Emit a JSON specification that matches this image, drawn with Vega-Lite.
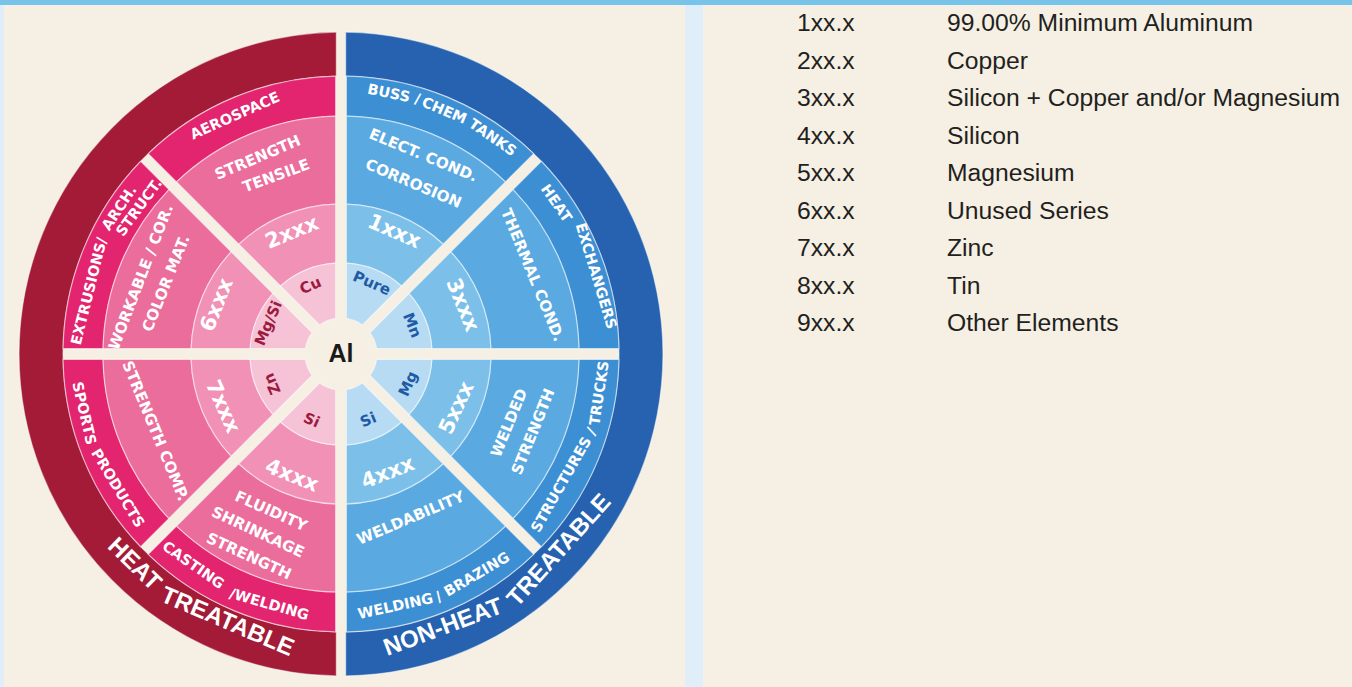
{
  "$schema": "https://vega.github.io/schema/vega-lite/v6.json",
  "padding": 0,
  "background": "#f5f0e3",
  "config": {"view": {"stroke": null}},
  "datasets": {
    "sectors": [
      {"sector": "1xxx", "half": "Non-heat treatable", "start": 0, "end": 45},
      {"sector": "3xxx", "half": "Non-heat treatable", "start": 45, "end": 90},
      {"sector": "5xxx", "half": "Non-heat treatable", "start": 90, "end": 135},
      {"sector": "4xxx wrought", "half": "Non-heat treatable", "start": 135, "end": 180},
      {"sector": "4xxx cast", "half": "Heat treatable", "start": 180, "end": 225},
      {"sector": "7xxx", "half": "Heat treatable", "start": 225, "end": 270},
      {"sector": "6xxx", "half": "Heat treatable", "start": 270, "end": 315},
      {"sector": "2xxx", "half": "Heat treatable", "start": 315, "end": 360}
    ],
    "halves": [
      {"half": "Non-heat treatable", "start": 0, "end": 180},
      {"half": "Heat treatable", "start": 180, "end": 360}
    ],
    "labels": [
      {"text": "Cu", "ring": "element", "half": "Heat treatable", "theta": 336, "level": 0.71},
      {"text": "Pure", "ring": "element", "half": "Non-heat treatable", "theta": 23.5, "level": 0.75},
      {"text": "Mn", "ring": "element", "half": "Non-heat treatable", "theta": 68, "level": 0.74},
      {"text": "Mg", "ring": "element", "half": "Non-heat treatable", "theta": 114, "level": 0.68},
      {"text": "Si", "ring": "element", "half": "Non-heat treatable", "theta": 157.5, "level": 0.64},
      {"text": "Si", "ring": "element", "half": "Heat treatable", "theta": 204, "level": 0.66},
      {"text": "Zn", "ring": "element", "half": "Heat treatable", "theta": 246.5, "level": 0.71},
      {"text": "Mg/Si", "ring": "element", "half": "Heat treatable", "theta": 293, "level": 0.78},
      {"text": "2xxx", "ring": "series", "half": "Heat treatable", "theta": 338, "level": 1.67},
      {"text": "1xxx", "ring": "series", "half": "Non-heat treatable", "theta": 23.5, "level": 1.71},
      {"text": "3xxx", "ring": "series", "half": "Non-heat treatable", "theta": 68, "level": 1.67},
      {"text": "5xxx", "ring": "series", "half": "Non-heat treatable", "theta": 115, "level": 1.63},
      {"text": "4xxx", "ring": "series", "half": "Non-heat treatable", "theta": 158.5, "level": 1.63},
      {"text": "4xxx", "ring": "series", "half": "Heat treatable", "theta": 202, "level": 1.69},
      {"text": "7xxx", "ring": "series", "half": "Heat treatable", "theta": 246, "level": 1.66},
      {"text": "6xxx", "ring": "series", "half": "Heat treatable", "theta": 291.6, "level": 1.71},
      {"text": "STRENGTH", "ring": "property", "half": "Heat treatable", "theta": 337, "level": 2.72},
      {"text": "TENSILE", "ring": "property", "half": "Heat treatable", "theta": 340, "level": 2.45},
      {"text": "ELECT. COND.", "ring": "property", "half": "Non-heat treatable", "theta": 22.5, "level": 2.74},
      {"text": "CORROSION", "ring": "property", "half": "Non-heat treatable", "theta": 23, "level": 2.4},
      {"text": "THERMAL COND.", "ring": "property", "half": "Non-heat treatable", "theta": 67.6, "level": 2.65},
      {"text": "WELDED", "ring": "property", "half": "Non-heat treatable", "theta": 112.3, "level": 2.36},
      {"text": "STRENGTH", "ring": "property", "half": "Non-heat treatable", "theta": 112, "level": 2.65},
      {"text": "WELDABILITY", "ring": "property", "half": "Non-heat treatable", "theta": 157, "level": 2.32},
      {"text": "FLUIDITY", "ring": "property", "half": "Heat treatable", "theta": 204, "level": 2.25},
      {"text": "SHRINKAGE", "ring": "property", "half": "Heat treatable", "theta": 205, "level": 2.53},
      {"text": "STRENGTH", "ring": "property", "half": "Heat treatable", "theta": 204.5, "level": 2.82},
      {"text": "STRENGTH COMP.", "ring": "property", "half": "Heat treatable", "theta": 247.5, "level": 2.58},
      {"text": "WORKABLE / COR.", "ring": "property", "half": "Heat treatable", "theta": 291, "level": 2.73},
      {"text": "COLOR MAT.", "ring": "property", "half": "Heat treatable", "theta": 292, "level": 2.44},
      {"text": "AEROSPACE", "ring": "application", "half": "Heat treatable", "theta": 336, "level": 3.55},
      {"text": "BUSS /", "ring": "application", "half": "Non-heat treatable", "theta": 11.5, "level": 3.66},
      {"text": "CHEM", "ring": "application", "half": "Non-heat treatable", "theta": 23, "level": 3.64},
      {"text": "TANKS", "ring": "application", "half": "Non-heat treatable", "theta": 35, "level": 3.64},
      {"text": "HEAT", "ring": "application", "half": "Non-heat treatable", "theta": 55, "level": 3.6},
      {"text": "EXCHANGERS", "ring": "application", "half": "Non-heat treatable", "theta": 73, "level": 3.7},
      {"text": "TRUCKS", "ring": "application", "half": "Non-heat treatable", "theta": 98.6, "level": 3.6},
      {"text": "STRUCTURES /", "ring": "application", "half": "Non-heat treatable", "theta": 119.5, "level": 3.47},
      {"text": "/ BRAZING", "ring": "application", "half": "Non-heat treatable", "theta": 149.5, "level": 3.54},
      {"text": "WELDING", "ring": "application", "half": "Non-heat treatable", "theta": 167.8, "level": 3.52},
      {"text": "/WELDING", "ring": "application", "half": "Heat treatable", "theta": 196, "level": 3.58},
      {"text": "CASTING", "ring": "application", "half": "Heat treatable", "theta": 215, "level": 3.51},
      {"text": "PRODUCTS", "ring": "application", "half": "Heat treatable", "theta": 239, "level": 3.58},
      {"text": "SPORTS", "ring": "application", "half": "Heat treatable", "theta": 257, "level": 3.66},
      {"text": "EXTRUSIONS/", "ring": "application", "half": "Heat treatable", "theta": 284, "level": 3.52},
      {"text": "ARCH.", "ring": "application", "half": "Heat treatable", "theta": 303.4, "level": 3.67},
      {"text": "STRUCT.", "ring": "application", "half": "Heat treatable", "theta": 306, "level": 3.27},
      {"text": "NON-HEAT", "ring": "treatment", "half": "Non-heat treatable", "theta": 159.5, "level": 4.32},
      {"text": "TREATABLE", "ring": "treatment", "half": "Non-heat treatable", "theta": 132, "level": 4.36},
      {"text": "TREATABLE", "ring": "treatment", "half": "Heat treatable", "theta": 203, "level": 4.3},
      {"text": "HEAT", "ring": "treatment", "half": "Heat treatable", "theta": 224.5, "level": 4.39}
    ],
    "series": [
      {"code": "1xx.x", "name": "99.00% Minimum Aluminum"},
      {"code": "2xx.x", "name": "Copper"},
      {"code": "3xx.x", "name": "Silicon + Copper and/or Magnesium"},
      {"code": "4xx.x", "name": "Silicon"},
      {"code": "5xx.x", "name": "Magnesium"},
      {"code": "6xx.x", "name": "Unused Series"},
      {"code": "7xx.x", "name": "Zinc"},
      {"code": "8xx.x", "name": "Tin"},
      {"code": "9xx.x", "name": "Other Elements"}
    ]
  },
  "spacing": 0,
  "vconcat": [
    {
      "width": 1352, "height": 5,
      "data": {"values": [{}]},
      "mark": {"type": "rect", "color": "#77c3e9"},
      "encoding": {}
    },
    {
      "spacing": 0,
      "hconcat": [
        {
          "width": 4, "height": 682,
          "data": {"values": [{}]},
          "mark": {"type": "rect", "color": "#dfeef8"},
          "encoding": {}
        },
        {
          "spacing": 0,
          "vconcat": [
            {
              "width": 674, "height": 16,
              "data": {"values": [{}]},
              "mark": {"type": "rect", "opacity": 0},
              "encoding": {}
            },
            {
              "width": 674, "height": 666,
              "resolve": {"scale": {"color": "independent", "angle": "independent"}},
              "layer": [
                {
                  "data": {"name": "halves"},
                  "mark": {"type": "arc", "padAngle": 0.0219, "stroke": "#ffffff", "strokeWidth": 1.2, "strokeOpacity": 0.5},
                  "encoding": {
                    "theta": {"field": "start", "type": "quantitative", "stack": null, "scale": {"domain": [0, 360], "range": [0, 6.283185307179586], "nice": false, "zero": false}},
                    "theta2": {"field": "end"},
                    "radius": {"datum": 4, "type": "quantitative", "scale": {"type": "linear", "domain": [-1, 0, 1, 2, 3, 4, 5], "range": [0, 36, 91, 150, 238, 278, 322], "zero": false, "nice": false}},
                    "radius2": {"datum": 5},
                    "color": {"field": "half", "type": "nominal", "scale": {"domain": ["Heat treatable", "Non-heat treatable"], "range": ["#a31b37", "#2662b0"]}, "legend": null}
                  }
                },
                {
                  "data": {"name": "sectors"},
                  "mark": {"type": "arc", "padAngle": 0.0295, "stroke": "#ffffff", "strokeWidth": 1.2, "strokeOpacity": 0.5},
                  "encoding": {
                    "theta": {"field": "start", "type": "quantitative", "stack": null, "scale": {"domain": [0, 360], "range": [0, 6.283185307179586], "nice": false, "zero": false}},
                    "theta2": {"field": "end"},
                    "radius": {"datum": 3, "type": "quantitative", "scale": {"type": "linear", "domain": [-1, 0, 1, 2, 3, 4, 5], "range": [0, 36, 91, 150, 238, 278, 322], "zero": false, "nice": false}},
                    "radius2": {"datum": 4},
                    "color": {"field": "half", "type": "nominal", "scale": {"domain": ["Heat treatable", "Non-heat treatable"], "range": ["#e3246e", "#3d8fd3"]}, "legend": null}
                  }
                },
                {
                  "data": {"name": "sectors"},
                  "mark": {"type": "arc", "padAngle": 0.0385, "stroke": "#ffffff", "strokeWidth": 1.2, "strokeOpacity": 0.5},
                  "encoding": {
                    "theta": {"field": "start", "type": "quantitative", "stack": null, "scale": {"domain": [0, 360], "range": [0, 6.283185307179586], "nice": false, "zero": false}},
                    "theta2": {"field": "end"},
                    "radius": {"datum": 2, "type": "quantitative", "scale": {"type": "linear", "domain": [-1, 0, 1, 2, 3, 4, 5], "range": [0, 36, 91, 150, 238, 278, 322], "zero": false, "nice": false}},
                    "radius2": {"datum": 3},
                    "color": {"field": "half", "type": "nominal", "scale": {"domain": ["Heat treatable", "Non-heat treatable"], "range": ["#eb6d9c", "#5aaae1"]}, "legend": null}
                  }
                },
                {
                  "data": {"name": "sectors"},
                  "mark": {"type": "arc", "padAngle": 0.0615, "stroke": "#ffffff", "strokeWidth": 1.2, "strokeOpacity": 0.5},
                  "encoding": {
                    "theta": {"field": "start", "type": "quantitative", "stack": null, "scale": {"domain": [0, 360], "range": [0, 6.283185307179586], "nice": false, "zero": false}},
                    "theta2": {"field": "end"},
                    "radius": {"datum": 1, "type": "quantitative", "scale": {"type": "linear", "domain": [-1, 0, 1, 2, 3, 4, 5], "range": [0, 36, 91, 150, 238, 278, 322], "zero": false, "nice": false}},
                    "radius2": {"datum": 2},
                    "color": {"field": "half", "type": "nominal", "scale": {"domain": ["Heat treatable", "Non-heat treatable"], "range": ["#f191b6", "#7cc0ea"]}, "legend": null}
                  }
                },
                {
                  "data": {"name": "sectors"},
                  "mark": {"type": "arc", "padAngle": 0.11, "stroke": "#ffffff", "strokeWidth": 1.2, "strokeOpacity": 0.5},
                  "encoding": {
                    "theta": {"field": "start", "type": "quantitative", "stack": null, "scale": {"domain": [0, 360], "range": [0, 6.283185307179586], "nice": false, "zero": false}},
                    "theta2": {"field": "end"},
                    "radius": {"datum": 0, "type": "quantitative", "scale": {"type": "linear", "domain": [-1, 0, 1, 2, 3, 4, 5], "range": [0, 36, 91, 150, 238, 278, 322], "zero": false, "nice": false}},
                    "radius2": {"datum": 1},
                    "color": {"field": "half", "type": "nominal", "scale": {"domain": ["Heat treatable", "Non-heat treatable"], "range": ["#f6c2d6", "#b6dbf3"]}, "legend": null}
                  }
                },
                {
                  "data": {"name": "labels"},
                  "transform": [{"filter": "datum.ring == 'element' && datum.text != 'Zn'"}],
                  "mark": {"type": "text", "font": "DejaVu Sans", "fontWeight": "bold", "fontSize": 15, "align": "center", "baseline": "middle"},
                  "encoding": {
                    "theta": {"field": "theta", "type": "quantitative", "stack": null, "scale": {"domain": [0, 360], "range": [0, 6.283185307179586], "nice": false, "zero": false}},
                    "radius": {"field": "level", "type": "quantitative", "scale": {"type": "linear", "domain": [-1, 0, 1, 2, 3, 4, 5], "range": [0, 36, 91, 150, 238, 278, 322], "zero": false, "nice": false}},
                    "angle": {"field": "theta", "type": "quantitative", "scale": {"domain": [0, 90, 90.001, 270, 270.001, 360], "range": [0, 90, -89.999, 89.999, -89.999, 0], "zero": false, "nice": false}},
                    "color": {"field": "half", "type": "nominal", "scale": {"domain": ["Heat treatable", "Non-heat treatable"], "range": ["#9c1a3d", "#1e5aa6"]}, "legend": null},
                    "text": {"field": "text"}
                  }
                },
                {
                  "data": {"name": "labels"},
                  "transform": [{"filter": "datum.ring == 'element' && datum.text == 'Zn'"}],
                  "mark": {"type": "text", "font": "DejaVu Sans", "fontWeight": "bold", "fontSize": 15, "align": "center", "baseline": "middle", "color": "#9c1a3d"},
                  "encoding": {
                    "theta": {"field": "theta", "type": "quantitative", "stack": null, "scale": {"domain": [0, 360], "range": [0, 6.283185307179586], "nice": false, "zero": false}},
                    "radius": {"field": "level", "type": "quantitative", "scale": {"type": "linear", "domain": [-1, 0, 1, 2, 3, 4, 5], "range": [0, 36, 91, 150, 238, 278, 322], "zero": false, "nice": false}},
                    "angle": {"field": "theta", "type": "quantitative", "scale": {"domain": [0, 360], "range": [0, 360], "zero": false, "nice": false}},
                    "text": {"field": "text"}
                  }
                },
                {
                  "data": {"name": "labels"},
                  "transform": [{"filter": "datum.ring == 'series'"}],
                  "mark": {"type": "text", "font": "DejaVu Sans", "fontWeight": "bold", "fontSize": 21, "align": "center", "baseline": "middle", "color": "#ffffff"},
                  "encoding": {
                    "theta": {"field": "theta", "type": "quantitative", "stack": null, "scale": {"domain": [0, 360], "range": [0, 6.283185307179586], "nice": false, "zero": false}},
                    "radius": {"field": "level", "type": "quantitative", "scale": {"type": "linear", "domain": [-1, 0, 1, 2, 3, 4, 5], "range": [0, 36, 91, 150, 238, 278, 322], "zero": false, "nice": false}},
                    "angle": {"field": "theta", "type": "quantitative", "scale": {"domain": [0, 90, 90.001, 270, 270.001, 360], "range": [0, 90, -89.999, 89.999, -89.999, 0], "zero": false, "nice": false}},
                    "text": {"field": "text"}
                  }
                },
                {
                  "data": {"name": "labels"},
                  "transform": [{"filter": "datum.ring == 'property'"}],
                  "mark": {"type": "text", "font": "DejaVu Sans", "fontWeight": "bold", "fontSize": 15.2, "align": "center", "baseline": "middle", "color": "#ffffff"},
                  "encoding": {
                    "theta": {"field": "theta", "type": "quantitative", "stack": null, "scale": {"domain": [0, 360], "range": [0, 6.283185307179586], "nice": false, "zero": false}},
                    "radius": {"field": "level", "type": "quantitative", "scale": {"type": "linear", "domain": [-1, 0, 1, 2, 3, 4, 5], "range": [0, 36, 91, 150, 238, 278, 322], "zero": false, "nice": false}},
                    "angle": {"field": "theta", "type": "quantitative", "scale": {"domain": [0, 90, 90.001, 270, 270.001, 360], "range": [0, 90, -89.999, 89.999, -89.999, 0], "zero": false, "nice": false}},
                    "text": {"field": "text"}
                  }
                },
                {
                  "data": {"name": "labels"},
                  "transform": [{"filter": "datum.ring == 'application'"}],
                  "mark": {"type": "text", "font": "DejaVu Sans", "fontWeight": "bold", "fontSize": 14.5, "align": "center", "baseline": "middle", "color": "#ffffff"},
                  "encoding": {
                    "theta": {"field": "theta", "type": "quantitative", "stack": null, "scale": {"domain": [0, 360], "range": [0, 6.283185307179586], "nice": false, "zero": false}},
                    "radius": {"field": "level", "type": "quantitative", "scale": {"type": "linear", "domain": [-1, 0, 1, 2, 3, 4, 5], "range": [0, 36, 91, 150, 238, 278, 322], "zero": false, "nice": false}},
                    "angle": {"field": "theta", "type": "quantitative", "scale": {"domain": [0, 90, 90.001, 270, 270.001, 360], "range": [0, 90, -89.999, 89.999, -89.999, 0], "zero": false, "nice": false}},
                    "text": {"field": "text"}
                  }
                },
                {
                  "data": {"name": "labels"},
                  "transform": [{"filter": "datum.ring == 'treatment'"}],
                  "mark": {"type": "text", "font": "Liberation Sans", "fontWeight": "bold", "fontSize": 24, "align": "center", "baseline": "middle", "color": "#ffffff"},
                  "encoding": {
                    "theta": {"field": "theta", "type": "quantitative", "stack": null, "scale": {"domain": [0, 360], "range": [0, 6.283185307179586], "nice": false, "zero": false}},
                    "radius": {"field": "level", "type": "quantitative", "scale": {"type": "linear", "domain": [-1, 0, 1, 2, 3, 4, 5], "range": [0, 36, 91, 150, 238, 278, 322], "zero": false, "nice": false}},
                    "angle": {"field": "theta", "type": "quantitative", "scale": {"domain": [0, 90, 90.001, 270, 270.001, 360], "range": [0, 90, -89.999, 89.999, -89.999, 0], "zero": false, "nice": false}},
                    "text": {"field": "text"}
                  }
                },
                {
                  "data": {"values": [{"element": "Al"}]},
                  "mark": {"type": "text", "font": "Liberation Sans", "fontWeight": "bold", "fontSize": 25, "align": "center", "baseline": "middle", "color": "#1a1a1a"},
                  "encoding": {"text": {"field": "element"}}
                }
              ]
            }
          ]
        },
        {
          "width": 7, "height": 682,
          "data": {"values": [{}]},
          "mark": {"type": "rect", "opacity": 0},
          "encoding": {}
        },
        {
          "width": 18, "height": 682,
          "data": {"values": [{}]},
          "mark": {"type": "rect", "color": "#dfeef8"},
          "encoding": {}
        },
        {
          "width": 649, "height": 682,
          "data": {"name": "series"},
          "transform": [{"fold": ["code", "name"], "as": ["column", "value"]}],
          "mark": {"type": "text", "font": "Liberation Sans", "fontSize": 24.7, "align": "left", "baseline": "middle", "color": "#231f20"},
          "encoding": {
            "x": {"field": "column", "type": "nominal", "scale": {"type": "point", "domain": ["code", "name"], "range": [94, 244], "padding": 0}, "axis": null},
            "y": {"field": "code", "type": "ordinal", "scale": {"type": "point", "range": [19, 319], "padding": 0}, "axis": null},
            "text": {"field": "value"}
          }
        }
      ]
    }
  ]
}
